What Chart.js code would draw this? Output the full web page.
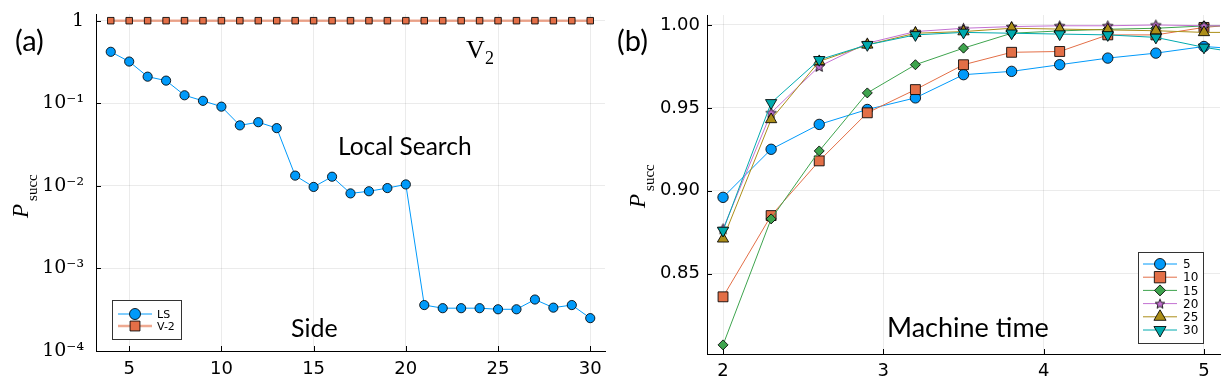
<!DOCTYPE html>
<html>
<head>
<meta charset="utf-8">
<script src="https://cdn.jsdelivr.net/npm/chart.js@4.4.1/dist/chart.umd.min.js"></script>
<style>
  body { margin: 0; background: #fff; width: 1232px; height: 392px; overflow: hidden; }
  .panel { position: absolute; top: 0; width: 616px; height: 392px; }
</style>
</head>
<body>
<div class="panel" style="left:0"><canvas id="left"></canvas></div>
<div class="panel" style="left:616px"><canvas id="right"></canvas></div>
<script>
// (a) success probability vs side
const sides = [4, 5, 6, 7, 8, 9, 10, 11, 12, 13, 14, 15, 16, 17, 18, 19, 20, 21, 22, 23, 24, 25, 26, 27, 28, 29, 30];
const lsProb = [0.42, 0.32, 0.21, 0.188, 0.125, 0.107, 0.091, 0.054, 0.059, 0.050, 0.0133, 0.0097, 0.0129, 0.0081,
  0.0086, 0.0094, 0.0104, 0.00036, 0.00033, 0.00033, 0.00033, 0.00032, 0.00032, 0.00042, 0.000335, 0.00036, 0.00025];
const v2Prob = [1, 1, 1, 1, 1, 1, 1, 1, 1, 1, 1, 1, 1, 1, 1, 1, 1, 1, 1, 1, 1, 1, 1, 1, 1, 1, 1];
const sideTicks = [5, 10, 15, 20, 25, 30];
const probTicks = [1e-4, 1e-3, 1e-2, 1e-1, 1];
const probTickLabels = ['10⁻⁴', '10⁻³', '10⁻²', '10⁻¹', '1'];

// (b) success probability vs machine time
const times = [2.0, 2.3, 2.6, 2.9, 3.2, 3.5, 3.8, 4.1, 4.4, 4.7, 5.0, 5.3];
const p5  = [0.896, 0.925, 0.940, 0.949, 0.956, 0.970, 0.972, 0.976, 0.980, 0.983, 0.987, 0.985];
const p10 = [0.836, 0.885, 0.918, 0.947, 0.961, 0.976, 0.9835, 0.984, 0.994, 0.994, 0.9985, 1.001];
const p15 = [0.807, 0.883, 0.924, 0.959, 0.976, 0.986, 0.995, 0.9964, 0.9974, 0.998, 0.9994, 0.9996];
const p20 = [0.877, 0.947, 0.975, 0.989, 0.996, 0.998, 0.999, 0.9995, 0.9995, 1.0, 0.9995, 0.9995];
const p25 = [0.871, 0.943, 0.978, 0.988, 0.995, 0.996, 0.998, 0.9975, 0.997, 0.9965, 0.9955, 0.9955];
const p30 = [0.876, 0.953, 0.979, 0.988, 0.994, 0.9955, 0.995, 0.9945, 0.994, 0.9925, 0.9865, 0.982];
const sizeLabels = ['5', '10', '15', '20', '25', '30'];
const timeTicks = [2, 3, 4, 5];
const succTicks = [0.85, 0.90, 0.95, 1.00];

const blue = '#009AFA', orange = '#E36F47', green = '#3EA44E', purple = '#C371D2', gold = '#AC8E18', teal = '#00AAAE';
const edge = 'rgba(0,0,0,0.85)';
const gridColor = 'rgba(0,0,0,0.08)';

function pts(xs, ys) { return xs.map((x, i) => ({ x: x, y: ys[i] })); }

// filled five-point star, Chart.js only has an asterisk
function starImage(size, fill) {
  const c = document.createElement('canvas');
  c.width = c.height = size;
  const g = c.getContext('2d');
  const r1 = size / 2 - 1, r2 = r1 * 0.45, cx = size / 2, cy = size / 2 + 0.5;
  g.beginPath();
  for (let k = 0; k < 10; k++) {
    const r = k % 2 ? r2 : r1;
    const a = -Math.PI / 2 + k * Math.PI / 5;
    g.lineTo(cx + r * Math.cos(a), cy + r * Math.sin(a));
  }
  g.closePath();
  g.fillStyle = fill; g.fill();
  g.strokeStyle = edge; g.lineWidth = 1; g.stroke();
  return c;
}
const star = starImage(13, purple);
const starSmall = starImage(12, purple);

const inwardTicks = {
  id: 'inwardTicks',
  afterDatasetsDraw(chart) {
    const { ctx, chartArea: a, scales: { x, y } } = chart;
    ctx.save();
    ctx.strokeStyle = '#000'; ctx.lineWidth = 1;
    ctx.beginPath();
    x.ticks.forEach(t => {
      const px = Math.round(x.getPixelForValue(t.value)) + 0.5;
      ctx.moveTo(px, a.bottom); ctx.lineTo(px, a.bottom - 5);
    });
    y.ticks.forEach(t => {
      const py = Math.round(y.getPixelForValue(t.value)) + 0.5;
      ctx.moveTo(a.left, py); ctx.lineTo(a.left + 5, py);
    });
    ctx.stroke();
    ctx.restore();
  }
};

// text annotations, y-label with subscript, and the boxed legend
const decorations = {
  id: 'decorations',
  afterDraw(chart, args, opts) {
    const ctx = chart.ctx;
    ctx.save();
    ctx.fillStyle = '#000';
    ctx.textBaseline = 'alphabetic';
    (opts.notes || []).forEach(n => {
      ctx.font = n.font;
      ctx.textAlign = 'left';
      ctx.fillText(n.text, n.x, n.y);
    });

    // P_succ, rotated
    const yl = opts.ylabel;
    ctx.save();
    ctx.translate(yl.x, yl.y);
    ctx.rotate(-Math.PI / 2);
    ctx.font = 'italic 23px "Liberation Serif"';
    ctx.fillText('P', 0, 0);
    const pw = ctx.measureText('P').width;
    ctx.font = '15px "Liberation Serif"';
    ctx.fillText('succ', pw + 3, 9);
    ctx.restore();

    // legend
    const lg = opts.legend;
    ctx.fillStyle = '#fff';
    ctx.fillRect(lg.x, lg.y, lg.w, lg.h);
    ctx.strokeStyle = '#333'; ctx.lineWidth = 1;
    ctx.strokeRect(lg.x + 0.5, lg.y + 0.5, lg.w, lg.h);
    ctx.font = lg.font;
    ctx.textAlign = 'left';
    ctx.textBaseline = 'middle';
    chart.data.datasets.forEach((ds, i) => {
      const yy = lg.y + lg.first + i * lg.step;
      ctx.strokeStyle = ds.borderColor; ctx.lineWidth = ds.borderWidth;
      ctx.beginPath();
      ctx.moveTo(lg.x + lg.l0, yy); ctx.lineTo(lg.x + lg.l1, yy);
      ctx.stroke();
      ctx.fillStyle = ds.pointBackgroundColor;
      ctx.strokeStyle = edge; ctx.lineWidth = 1;
      const style = ds.legendStyle || ds.pointStyle;
      Chart.helpers.drawPoint(ctx, {
        pointStyle: style, rotation: ds.pointRotation || 0,
        radius: ds.legendRadius || ds.pointRadius, borderWidth: 1
      }, lg.x + (lg.l0 + lg.l1) / 2, yy);
      ctx.fillStyle = '#000';
      ctx.fillText(ds.label, lg.x + lg.tx, yy + 1);
    });
    ctx.restore();
  }
};

function axisCommon() {
  return {
    grid: { color: gridColor, lineWidth: 1, drawTicks: false },
    border: { color: '#000', width: 1 },
  };
}

new Chart(document.getElementById('left'), {
  type: 'line',
  data: {
    datasets: [
      {
        label: 'LS', data: pts(sides, lsProb),
        borderColor: blue, borderWidth: 1,
        pointStyle: 'circle', pointRadius: 4.6, pointBackgroundColor: blue,
        pointBorderColor: edge, pointBorderWidth: 1, legendRadius: 5.5, order: 2
      },
      {
        label: 'V-2', data: pts(sides, v2Prob),
        borderColor: 'rgba(227,111,71,0.6)', borderWidth: 2.5,
        pointStyle: 'rect', pointRadius: 4.6, pointBackgroundColor: orange,
        pointBorderColor: edge, pointBorderWidth: 1, legendRadius: 7, order: 1
      }
    ]
  },
  options: {
    responsive: true, maintainAspectRatio: false, animation: false,
    layout: { padding: { left: 0, top: 14, right: 11, bottom: 0 } },
    plugins: {
      legend: { display: false }, tooltip: { enabled: false },
      decorations: {
        notes: [
          { text: '(a)', x: 15, y: 51, font: '29px Lato' },
          { text: 'V', x: 466, y: 58, font: '26px "Liberation Serif"' },
          { text: '2', x: 485, y: 64, font: '18px "Liberation Serif"' },
          { text: 'Local Search', x: 338, y: 155, font: '24.5px Lato' },
          { text: 'Side', x: 291, y: 337, font: '25px Lato' }
        ],
        ylabel: { x: 28, y: 218 },
        legend: { x: 112, y: 300, w: 69, h: 39, first: 14, step: 12, l0: 6, l1: 40, tx: 45, font: '11px "DejaVu Sans"' }
      }
    },
    scales: {
      x: {
        type: 'linear', min: 3.2, max: 30.8, ...axisCommon(),
        afterBuildTicks: s => { s.ticks = sideTicks.map(v => ({ value: v })); },
        afterFit: s => { s.height = 41; s.paddingLeft = 0; s.paddingRight = 0; },
        ticks: { font: { family: 'DejaVu Sans', size: 18 }, color: '#000', padding: 8, autoSkip: false, maxRotation: 0 }
      },
      y: {
        type: 'logarithmic', min: 1e-4, max: 1.205, ...axisCommon(),
        afterBuildTicks: s => { s.ticks = probTicks.map(v => ({ value: v })); },
        afterFit: s => { s.width = 96; s.paddingTop = 0; s.paddingBottom = 0; },
        ticks: {
          font: { family: 'DejaVu Serif', size: 19 }, color: '#000', padding: 12, autoSkip: false,
          callback: v => probTickLabels[probTicks.indexOf(v)]
        }
      }
    }
  },
  plugins: [inwardTicks, decorations]
});

const rightSeries = [
  { label: sizeLabels[0], ys: p5, color: blue, style: 'circle', r: 5.2, lr: 5.5 },
  { label: sizeLabels[1], ys: p10, color: orange, style: 'rect', r: 7, lr: 8 },
  { label: sizeLabels[2], ys: p15, color: green, style: 'rectRot', r: 5, lr: 5.5 },
  { label: sizeLabels[3], ys: p20, color: purple, style: star, r: 6, lr: 6, legend: starSmall },
  { label: sizeLabels[4], ys: p25, color: gold, style: 'triangle', r: 6.5, lr: 7 },
  { label: sizeLabels[5], ys: p30, color: teal, style: 'triangle', r: 6.5, lr: 7, rot: 180 }
];

new Chart(document.getElementById('right'), {
  type: 'line',
  data: {
    datasets: rightSeries.map((s, i) => ({
      label: s.label, data: pts(times, s.ys),
      borderColor: s.color, borderWidth: 1,
      pointStyle: s.style, pointRotation: s.rot || 0, pointRadius: s.r,
      pointBackgroundColor: s.color, pointBorderColor: edge, pointBorderWidth: 1,
      legendRadius: s.lr, legendStyle: s.legend, order: 6 - i
    }))
  },
  options: {
    responsive: true, maintainAspectRatio: false, animation: false,
    layout: { padding: { left: 0, top: 15, right: 12, bottom: 0 } },
    plugins: {
      legend: { display: false }, tooltip: { enabled: false },
      decorations: {
        notes: [
          { text: '(b)', x: 1, y: 51, font: '29px Lato' },
          { text: 'Machine time', x: 271, y: 337, font: '27px Lato' }
        ],
        ylabel: { x: 29, y: 208 },
        legend: { x: 522, y: 252, w: 65, h: 91, first: 12, step: 13.2, l0: 5, l1: 39, tx: 45, font: '12px "DejaVu Sans"' }
      }
    },
    scales: {
      x: {
        type: 'linear', min: 1.9, max: 5.1, ...axisCommon(),
        afterBuildTicks: s => { s.ticks = timeTicks.map(v => ({ value: v })); },
        afterFit: s => { s.height = 38; s.paddingLeft = 0; s.paddingRight = 0; },
        ticks: { font: { family: 'DejaVu Sans', size: 18 }, color: '#000', padding: 7, autoSkip: false, maxRotation: 0 }
      },
      y: {
        type: 'linear', min: 0.8015, max: 1.006, ...axisCommon(),
        afterBuildTicks: s => { s.ticks = succTicks.map(v => ({ value: v })); },
        afterFit: s => { s.width = 91; s.paddingTop = 0; s.paddingBottom = 0; },
        ticks: {
          font: { family: 'DejaVu Sans', size: 18 }, color: '#000', padding: 7, autoSkip: false,
          callback: v => v.toFixed(2)
        }
      }
    }
  },
  plugins: [inwardTicks, decorations]
});
</script>
</body>
</html>
